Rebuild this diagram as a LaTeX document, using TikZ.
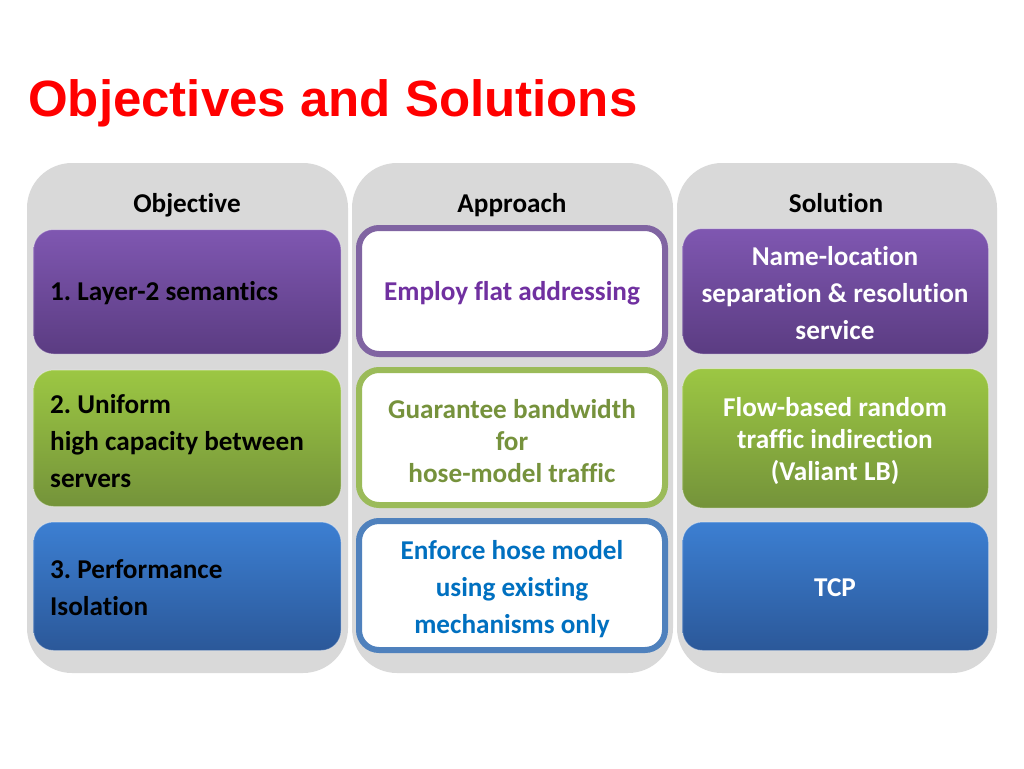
\documentclass[tikz,border=0pt]{standalone}
\usepackage{fontspec}
\setmainfont{Carlito}[Ligatures=NoCommon]
\newfontfamily\titlefont{Liberation Sans}
\frenchspacing
\usetikzlibrary{calc}
\definecolor{panelgray}{HTML}{D9D9D9}
\definecolor{purpT}{HTML}{7F57B1}
\definecolor{purpB}{HTML}{5B3C82}
\definecolor{greenT}{HTML}{9CC743}
\definecolor{greenB}{HTML}{74933A}
\definecolor{blueT}{HTML}{3C7FD2}
\definecolor{blueB}{HTML}{2B5899}
\definecolor{purpLine}{HTML}{8064A2}
\definecolor{greenLine}{HTML}{9BBB59}
\definecolor{blueLine}{HTML}{4F81BD}
\definecolor{purpText}{HTML}{7030A0}
\definecolor{greenText}{HTML}{76923C}
\definecolor{blueText}{HTML}{0070C0}
\definecolor{titleRed}{HTML}{FF0000}
\tikzset{
  panel/.style={fill=panelgray, rounded corners=45pt},
  filledbox/.style={rounded corners=20pt, draw=white, draw opacity=0.35, line width=1pt},
  purplefill/.style={filledbox, top color=purpT, bottom color=purpB},
  greenfill/.style={filledbox, top color=greenT, bottom color=greenB},
  bluefill/.style={filledbox, top color=blueT, bottom color=blueB},
  outlinebox/.style={fill=white, rounded corners=20pt, line width=6pt},
  bodytext/.style={font=\fontsize{27.2}{37}\selectfont\bfseries, inner sep=0pt},
  tightbody/.style={font=\fontsize{27.2}{32}\selectfont\bfseries},
  headtext/.style={bodytext, text=black, anchor=base},
  lefttext/.style={bodytext, text=black, align=left, anchor=west},
  centertext/.style={bodytext, align=center},
}
\begin{document}
\begin{tikzpicture}[x=1pt, y=-1pt]
\useasboundingbox (0,0) rectangle (1024,768);
\fill[white] (0,0) rectangle (1024,768);
% title
\node[anchor=base west, inner sep=0pt, text=titleRed, font=\fontsize{51}{60}\selectfont\titlefont\bfseries] (title) at (28,116) {Objectives and Solutions};
% panels
\path[panel] (27,163) rectangle (348,673);
\path[panel] (352,163) rectangle (673,673);
\path[panel] (677,163) rectangle (997,673);
% headers
\node[headtext] (hobj) at (187,212) {Objective};
\node[headtext] (happ) at (512,212) {Approach};
\node[headtext] (hsol) at (836,212) {Solution};
% column 1
\path[purplefill] (33.5,229.5) rectangle (341,354);
\path[greenfill] (33.5,370) rectangle (341,506.5);
\path[bluefill] (33.5,522) rectangle (341,650.5);
\node[lefttext] (o1) at (50,293) {1. Layer-2 semantics};
\node[lefttext] (o2) at (50,441) {2. Uniform\\high capacity between\\servers};
\node[lefttext] (o3) at (50,588) {3. Performance\\Isolation};
% column 2
\path[outlinebox, draw=purpLine] (359,228) rectangle (665,354);
\path[outlinebox, draw=greenLine] (359,370) rectangle (665,505);
\path[outlinebox, draw=blueLine] (359,521) rectangle (665,650);
\node[centertext, text=purpText] (a1) at (512,293) {Employ flat addressing};
\node[centertext, text=greenText, tightbody] (a2) at (512,441) {Guarantee bandwidth\\for\\hose-model traffic};
\node[centertext, text=blueText] (a3) at (512,589) {Enforce hose model\\using existing\\mechanisms only};
% column 3
\path[purplefill] (682.5,228.5) rectangle (988.5,354);
\path[greenfill] (682.5,368.5) rectangle (988.5,508);
\path[bluefill] (682.5,522) rectangle (988.5,650.5);
\node[centertext, text=white] (s1) at (835,293) {Name-location\\separation \& resolution\\service};
\node[centertext, text=white, tightbody] (s2) at (835,441) {Flow-based random\\traffic indirection\\(Valiant LB)};
\node[centertext, text=white] (s3) at (835,588) {TCP};
\end{tikzpicture}
\end{document}
